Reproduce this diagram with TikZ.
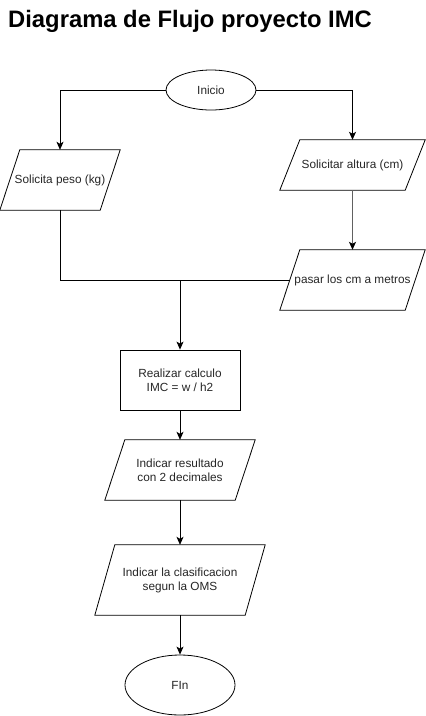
\documentclass[tikz,border=0pt]{standalone}
\usepackage{fontspec}
\setmainfont{Liberation Sans}
\usetikzlibrary{shapes.geometric,arrows.meta,calc}
\begin{document}
\begin{tikzpicture}[x=1pt,y=-1pt,
  base/.style={line width=0.8pt,draw=black},
  txt/.style={font=\fontsize{11.8}{14}\selectfont,align=center,text=black!85},
  ell/.style={base,ellipse,txt,inner sep=0pt},
  boxnode/.style={base,rectangle,txt,inner sep=0pt},
  parabox/.style={draw=none,rectangle,txt,inner sep=0pt},
  para/.style={base},
  conn/.style={line width=0.8pt,draw=black},
  arr/.style={conn,-{Stealth[length=8pt,width=7pt,inset=2pt]}},
  garr/.style={line width=0.9pt,draw=black!62,-{Stealth[length=8pt,width=7pt,inset=2pt,color=black]}}
]
\useasboundingbox (0,0) rectangle (426,716);

\node[anchor=base west,inner sep=0pt,font=\fontsize{23.8}{28}\selectfont\bfseries] (title) at (8,27) {Diagrama de Flujo proyecto IMC};

\node[ell,minimum width=90pt,minimum height=40pt] (inicio) at (211,90) {Inicio};

\node[parabox,minimum width=120pt,minimum height=60pt] (peso) at (60,180) {Solicita peso (kg)};
\draw[para] ([xshift=20pt]peso.north west) -- (peso.north east) -- ([xshift=-20pt]peso.south east) -- (peso.south west) -- cycle;

\node[parabox,minimum width=145pt,minimum height=50pt] (altura) at (352.5,165) {Solicitar altura (cm)};
\draw[para] ([xshift=20pt]altura.north west) -- (altura.north east) -- ([xshift=-20pt]altura.south east) -- (altura.south west) -- cycle;

\node[parabox,minimum width=145pt,minimum height=60pt] (pasar) at (352.5,280) {pasar los cm a metros};
\draw[para] ([xshift=20pt]pasar.north west) -- (pasar.north east) -- ([xshift=-20pt]pasar.south east) -- (pasar.south west) -- cycle;

\node[boxnode,minimum width=120pt,minimum height=60pt] (calc) at (180,380) {Realizar calculo\\IMC = w / h2};

\node[parabox,minimum width=150pt,minimum height=60pt] (res) at (180,470) {Indicar resultado\\con 2 decimales};
\draw[para] ([xshift=20pt]res.north west) -- (res.north east) -- ([xshift=-20pt]res.south east) -- (res.south west) -- cycle;

\node[parabox,minimum width=170pt,minimum height=70pt] (clas) at (180,580) {Indicar la clasificacion\\segun la OMS};
\draw[para] ([xshift=20pt]clas.north west) -- (clas.north east) -- ([xshift=-20pt]clas.south east) -- (clas.south west) -- cycle;

\node[ell,minimum width=110pt,minimum height=60pt] (fin) at (180,685) {FIn};

\coordinate (pasarL) at ([xshift=10pt]pasar.west);
\coordinate (pesoB) at (peso.south |- pasarL);
\coordinate (J) at (calc.north |- pasarL);

\draw[arr] (inicio.west) -| (peso.north);
\draw[arr] (inicio.east) -| (altura.north);
\draw[garr] (altura.south) -- (pasar.north);
\draw[conn] (peso.south) -- (pesoB) -- (pasarL);
\draw[arr] (J) -- (calc.north);
\draw[arr] (calc.south) -- (res.north);
\draw[arr] (res.south) -- (clas.north);
\draw[arr] (clas.south) -- (fin.north);
\end{tikzpicture}
\end{document}
